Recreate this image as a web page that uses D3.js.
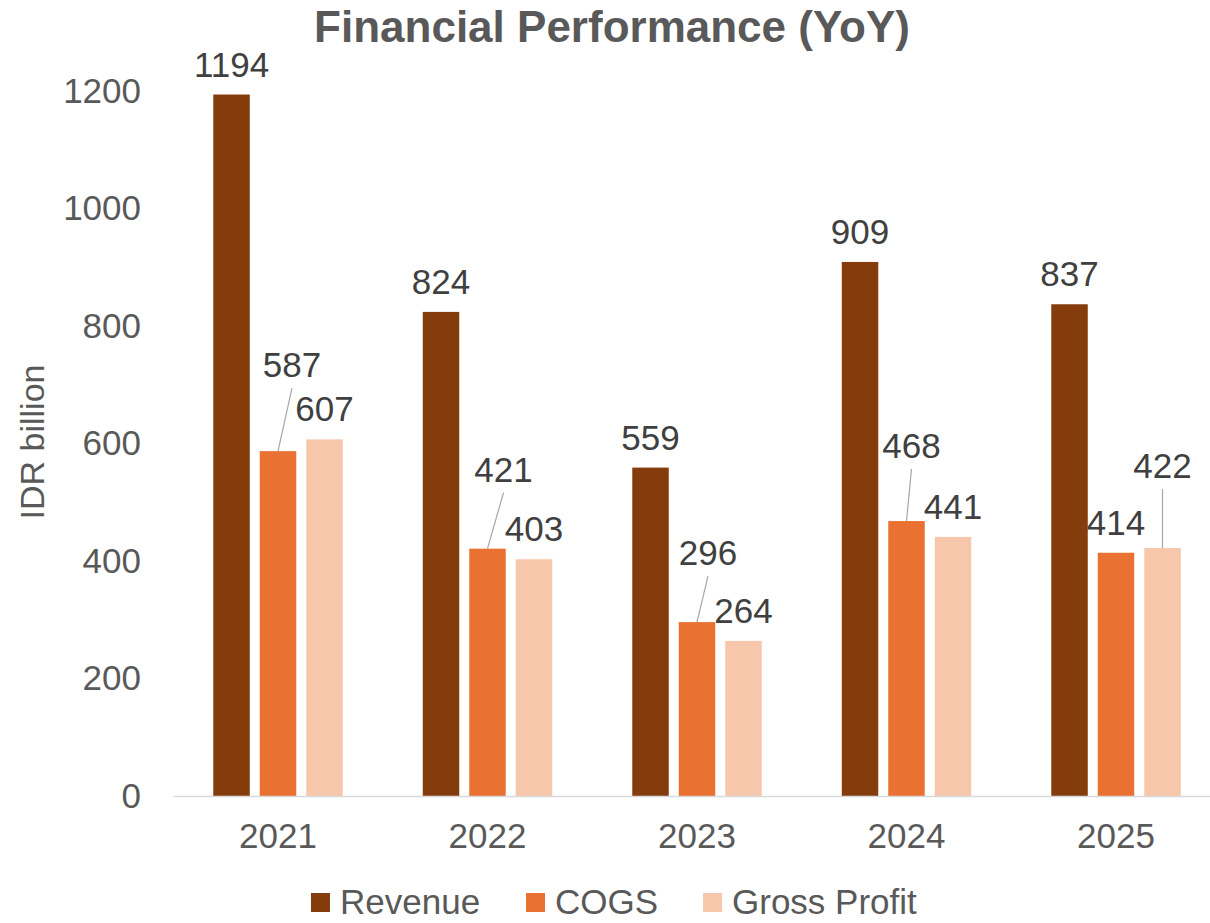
<!DOCTYPE html>
<meta charset="utf-8">
<style>
  body { margin: 0; background: #fff; }
  text { font-family: "Liberation Sans", Arial, sans-serif; }
  .axis text { fill: #595959; font-size: 35px; }
  .lbl { fill: #404040; font-size: 35px; }
  .leader { stroke: #a6a6a6; stroke-width: 1.2; }
</style>
<svg width="1210" height="923"></svg>
<script src="https://d3js.org/d3.v7.min.js"></script>
<script>
// chart data
var years = ["2021", "2022", "2023", "2024", "2025"];
var seriesNames = ["Revenue", "COGS", "Gross Profit"];
var revenue = [1194, 824, 559, 909, 837];
var cogs = [587, 421, 296, 468, 414];
var grossProfit = [607, 403, 264, 441, 422];
var yTicks = [0, 200, 400, 600, 800, 1000, 1200];

var colors = ["#843C0C", "#E97132", "#F7C7AC"];

// label nudges (px) for labels that got moved off their bar, like the original
var nudge = [
  [[0,0],[0,0],[0,0],[0,0],[0,0]],
  [[14,-56],[16,-49],[11,-39],[5,-45],[0,0]],
  [[0,0],[0,0],[0,0],[0,0],[0,-52]]
];

var values = [revenue, cogs, grossProfit];

var svg = d3.select("svg");

var plotLeft = 173.25, plotRight = 1220.75, plotTop = 91, plotBottom = 796;

var x0 = d3.scaleBand()
    .domain(years)
    .range([plotLeft, plotRight])
    .paddingInner(0.382)
    .paddingOuter(0.191);

var x1 = d3.scaleBand()
    .domain(seriesNames)
    .range([0, x0.bandwidth()])
    .paddingInner(0.215);

var y = d3.scaleLinear()
    .domain([0, 1200])
    .range([plotBottom, plotTop]);

// title
svg.append("text")
    .attr("x", 612)
    .attr("y", 42)
    .attr("text-anchor", "middle")
    .style("font-size", "44px")
    .style("font-weight", "bold")
    .style("fill", "#595959")
    .text("Financial Performance (YoY)");

// y axis (labels only)
var yAxis = svg.append("g")
    .attr("class", "axis")
    .attr("transform", "translate(141,0)")
    .call(d3.axisLeft(y).tickValues(yTicks).tickFormat(d3.format("d")).tickSize(0).tickPadding(0));
yAxis.select(".domain").remove();

svg.append("text")
    .attr("transform", "translate(44,442) rotate(-90)")
    .attr("text-anchor", "middle")
    .style("font-size", "34px")
    .style("fill", "#595959")
    .text("IDR billion");

// bars
var groups = svg.selectAll(".year")
    .data(years)
    .enter()
    .append("g")
    .attr("class", "year")
    .attr("transform", function(d) { return "translate(" + x0(d) + ",0)"; });

groups.each(function(yr, i) {
  var g = d3.select(this);
  seriesNames.forEach(function(s, k) {
    var v = values[k][i];
    var bx = x1(s), bw = x1.bandwidth();
    g.append("rect")
        .attr("x", bx)
        .attr("y", y(v))
        .attr("width", bw)
        .attr("height", y(0) - y(v))
        .attr("fill", colors[k]);

    var dx = nudge[k][i][0], dy = nudge[k][i][1];
    var lx = bx + bw / 2 + dx;
    var ly = y(v) - 18 + dy;
    if (dy !== 0) {
      g.append("line")
          .attr("class", "leader")
          .attr("x1", lx)
          .attr("y1", ly + 11)
          .attr("x2", bx + bw / 2)
          .attr("y2", y(v));
    }
    g.append("text")
        .attr("class", "lbl")
        .attr("x", lx)
        .attr("y", ly)
        .attr("text-anchor", "middle")
        .text(v);
  });
});

// x axis
var xAxis = svg.append("g")
    .attr("class", "axis")
    .attr("transform", "translate(0," + plotBottom + ")")
    .call(d3.axisBottom(x0).tickSize(0).tickPadding(27).tickSizeOuter(0));
xAxis.select(".domain").attr("stroke", "#d9d9d9").attr("stroke-width", 1.5);

// legend
var legendX = [311, 526, 703];
var legend = svg.selectAll(".legend")
    .data(seriesNames)
    .enter()
    .append("g")
    .attr("class", "legend")
    .attr("transform", function(d, i) { return "translate(" + legendX[i] + ",893)"; });

legend.append("rect")
    .attr("width", 19)
    .attr("height", 19)
    .attr("fill", function(d, i) { return colors[i]; });

legend.append("text")
    .attr("x", 29)
    .attr("y", 21)
    .style("font-size", "35px")
    .style("fill", "#595959")
    .text(function(d) { return d; });
</script>
